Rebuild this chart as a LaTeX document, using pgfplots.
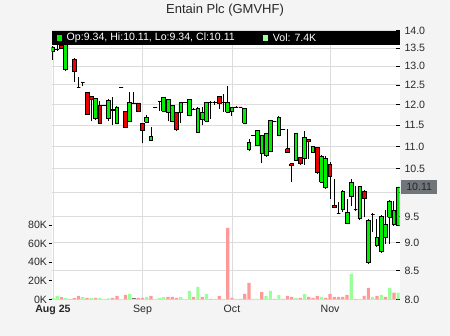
\documentclass[border=0pt]{standalone}
\usepackage{pgfplots}
\pgfplotsset{compat=1.18}
\usepackage{pgfplotstable}
\usepackage{fontspec}
\setmainfont{Liberation Sans}
\definecolor{bg}{RGB}{244,244,244}
\definecolor{gridc}{RGB}{220,220,220}
\definecolor{upc}{RGB}{0,238,0}
\definecolor{dnc}{RGB}{238,0,0}
\definecolor{vup}{RGB}{153,255,153}
\definecolor{vdn}{RGB}{255,153,153}
\definecolor{vgr}{RGB}{115,115,115}
\definecolor{txt}{RGB}{40,40,40}
\definecolor{lastbox}{RGB}{112,117,122}

\pgfplotstableread{
i O H L C
0 13.41 13.55 13.16 13.52
1 13.47 13.57 13.41 13.47
2 13.57 13.62 13.47 13.49
3 12.90 13.85 12.88 13.80
4 13.85 13.92 13.70 13.78
5 13.18 13.22 12.57 12.86
6 12.44 12.70 12.42 12.44
7 12.56 12.57 12.47 12.56
8 12.31 12.33 11.74 11.75
9 12.21 12.22 11.59 12.14
10 11.65 12.17 11.62 12.15
11 11.98 12.08 11.53 11.55
12 11.98 11.98 11.98 11.98
13 11.65 12.13 11.59 12.10
14 11.87 12.19 11.49 11.85
15 11.55 11.96 11.53 11.94
16 12.43 12.43 12.43 12.43
17 11.83 11.85 11.43 11.45
18 11.59 12.31 11.57 12.05
19 12.04 12.31 12.03 12.04
20 12.04 12.05 11.82 11.84
21 11.54 11.56 11.07 11.37
22 11.57 11.75 11.55 11.69
23 11.14 11.45 11.12 11.23
24 11.92 11.92 11.92 11.92
25 12.07 12.08 11.84 12.07
26 11.83 12.19 11.81 12.17
27 11.81 12.14 11.59 12.12
28 11.59 11.99 11.57 11.97
29 11.80 11.82 11.37 11.40
30 11.80 12.07 11.54 12.05
31 12.05 12.05 12.05 12.05
32 11.73 12.14 11.71 12.12
33 11.88 11.92 11.86 11.88
34 11.32 11.93 11.30 11.91
35 11.63 11.94 11.49 11.81
36 11.59 12.07 11.57 12.05
37 12.06 12.08 11.65 12.06
38 12.06 12.10 12.00 12.06
39 12.20 12.22 11.90 12.02
40 12.06 12.27 11.81 12.06
41 11.81 12.46 11.79 12.05
42 11.84 11.94 11.73 11.92
43 11.94 11.96 11.93 11.94
44 11.94 11.95 11.92 11.94
45 11.54 11.92 11.52 11.90
46 10.92 11.16 10.90 11.08
47 11.25 11.26 11.24 11.25
48 11.02 11.39 11.00 11.37
49 10.83 11.27 10.62 11.25
50 10.79 11.31 10.77 11.29
51 10.89 11.63 10.87 11.61
52 11.58 11.59 11.57 11.58
53 11.25 11.71 11.23 11.69
54 11.40 11.41 11.39 11.40
55 10.95 11.40 10.86 10.87
56 10.61 10.62 10.21 10.57
57 10.68 11.31 10.66 11.29
58 10.74 10.76 10.59 10.61
59 10.72 11.35 10.59 11.21
60 11.16 11.18 10.72 11.11
61 10.87 11.02 10.85 11.00
62 10.97 10.99 10.39 10.41
63 10.21 10.80 10.19 10.78
64 10.09 10.78 10.07 10.72
65 10.59 10.65 9.87 10.34
66 9.73 10.27 9.67 9.68
67 9.57 9.80 9.55 9.57
68 9.65 10.04 9.60 10.02
69 9.38 9.85 9.36 9.58
70 9.91 10.27 9.71 10.20
71 9.64 10.14 9.62 9.64
72 9.46 10.14 9.44 10.12
73 10.02 10.04 9.49 9.87
74 8.64 9.45 8.62 9.43
75 9.54 9.57 9.20 9.54
76 8.95 9.46 8.93 9.10
77 8.84 9.53 8.82 9.51
78 9.10 9.63 8.98 9.35
79 9.49 9.84 8.98 9.82
80 9.35 9.82 9.33 9.63
81 9.34 10.11 9.34 10.11
}\ohlc

% volume in thousands
\pgfplotstableread{
i V
0 1.4
1 3.9
3 1.4
7 2.5
9 1.8
11 1.8
13 1.1
18 6.1
22 2.5
25 1.8
26 2.5
30 2.5
32 9.3
34 13.6
36 6.1
38 0.7
40 0.7
43 0.7
47 0.7
48 0.7
50 3.6
51 9.3
53 5.0
57 1.8
59 6.1
63 2.9
70 27.5
72 0.7
75 2.9
77 5.0
79 12.5
81 7.4
}\volup

\pgfplotstableread{
i V
2 2.5
4 0.7
5 1.4
6 3.9
8 1.8
10 1.8
14 1.8
15 3.9
17 5.0
20 1.8
21 1.8
23 3.9
27 2.9
28 2.9
29 1.8
33 2.9
35 2.9
37 0.7
39 3.9
41 76.8
42 1.8
44 0.7
45 6.1
46 17.9
49 8.2
52 0.7
54 0.7
55 3.9
56 2.9
58 1.8
60 2.9
61 1.8
62 3.9
64 1.8
65 6.1
66 2.9
67 2.9
68 2.9
69 5.0
71 0.7
73 3.9
74 12.5
76 3.9
78 2.9
80 7.5
}\voldn

\pgfplotstableread{
i V
19 1.8
}\volgr

\pgfplotsset{
  base/.style={scale only axis, width=347.8pt, height=269pt,
    at={(51.7pt,36.5pt)}, anchor=south west, xmin=-0.3, xmax=81.3},
  lbl/.style={font=\fontsize{10.6}{12.7}\selectfont, text=txt},
}

\begin{document}
\begin{tikzpicture}[x=1pt,y=1pt]
\path[use as bounding box, fill=bg] (0,0) rectangle (450,336);
\fill[white] (51.7,36.5) rectangle (399.5,305.5);

% grid, price ticks, dates
\begin{axis}[base, ymode=log, ymin=8, ymax=14,
  axis line style={draw=none},
  xtick={0,21,42,65}, xticklabels={\textbf{Aug 25},Sep,Oct,Nov},
  ytick={8,8.5,9,9.5,10,10.5,11,11.5,12,12.5,13,13.5,14},
  yticklabels={8.0,8.5,9.0,9.5,,10.5,11.0,11.5,12.0,12.5,13.0,13.5,14.0},
  grid=major, grid style={draw=gridc, line width=0.9pt},
  ytick pos=right, yticklabel pos=right,
  tick align=inside, major tick length=3.5pt,
  xtick style={draw=none}, ytick style={draw=black, line width=0.8pt},
  tick label style={lbl},
  yticklabel style={anchor=west, inner sep=0pt, xshift=4.8pt},
  xticklabel style={anchor=base, inner sep=0pt, yshift=-13pt},
]
\end{axis}

% volume
\begin{axis}[base, ymin=0, ymax=288.9,
  axis line style={draw=none}, xtick=\empty,
  ytick={0,20,40,60,80}, yticklabels={0K,20K,40K,60K,80K},
  ytick pos=left, tick align=outside, major tick length=3pt,
  ytick style={draw=black, line width=0.8pt},
  tick label style={lbl},
  yticklabel style={anchor=east, inner sep=0pt, xshift=-1.5pt},
]
\addplot[ybar, bar width=0.75, bar shift=0pt, fill=vup, draw=none] table[x=i,y=V]{\volup};
\addplot[ybar, bar width=0.75, bar shift=0pt, fill=vdn, draw=none] table[x=i,y=V]{\voldn};
\addplot[ybar, bar width=0.75, bar shift=0pt, fill=vgr, draw=none] table[x=i,y=V]{\volgr};
\end{axis}

% candles
\begin{axis}[base, ymode=log, ymin=8, ymax=14, hide axis]
\pgfplotsforeachungrouped \k in {0,...,81}{%
  \pgfplotstablegetelem{\k}{i}\of\ohlc \let\vi\pgfplotsretval
  \pgfplotstablegetelem{\k}{O}\of\ohlc \let\vo\pgfplotsretval
  \pgfplotstablegetelem{\k}{H}\of\ohlc \let\vh\pgfplotsretval
  \pgfplotstablegetelem{\k}{L}\of\ohlc \let\vl\pgfplotsretval
  \pgfplotstablegetelem{\k}{C}\of\ohlc \let\vc\pgfplotsretval
  \ifdim\vc pt>\vo pt \def\bcol{upc}\else\def\bcol{dnc}\fi
  \pgfmathsetmacro{\xa}{\vi-0.44}%
  \pgfmathsetmacro{\xb}{\vi+0.44}%
  \edef\tmp{%
    \noexpand\addplot[black, line width=1pt, forget plot] coordinates {(\vi,\vl) (\vi,\vh)};
    \noexpand\addplot[draw=black, line width=0.85pt, fill=\bcol, forget plot] coordinates {(\xa,\vo) (\xb,\vo) (\xb,\vc) (\xa,\vc) (\xa,\vo)};
  }\tmp
}
\coordinate (last) at (axis cs:81.3,10.11);
\end{axis}

% legend bar
\fill[black] (51.7,291) rectangle (399.5,305.3);
\fill[upc] (56.5,295) rectangle (62,300.5);
\node[anchor=west, inner sep=0pt, text=white, font=\fontsize{10.6}{12.7}\selectfont] at (66.5,297.8) {Op:9.34, Hi:10.11, Lo:9.34, Cl:10.11};
\fill[vup] (262.7,295) rectangle (268,300.5);
\node[anchor=west, inner sep=0pt, text=white, font=\fontsize{10.6}{12.7}\selectfont] at (272.7,297.8) {Vol: 7.4K};

% title
\node[text=txt, font=\fontsize{13}{15}\selectfont] at (225,326) {Entain Plc (GMVHF)};

% last price
\node[anchor=west, fill=lastbox, inner sep=0pt, minimum width=36pt, minimum height=14.5pt, text=black!85, font=\fontsize{10.6}{12.7}\selectfont] at ([xshift=1.5pt]last) {10.11};
\end{tikzpicture}
\end{document}
